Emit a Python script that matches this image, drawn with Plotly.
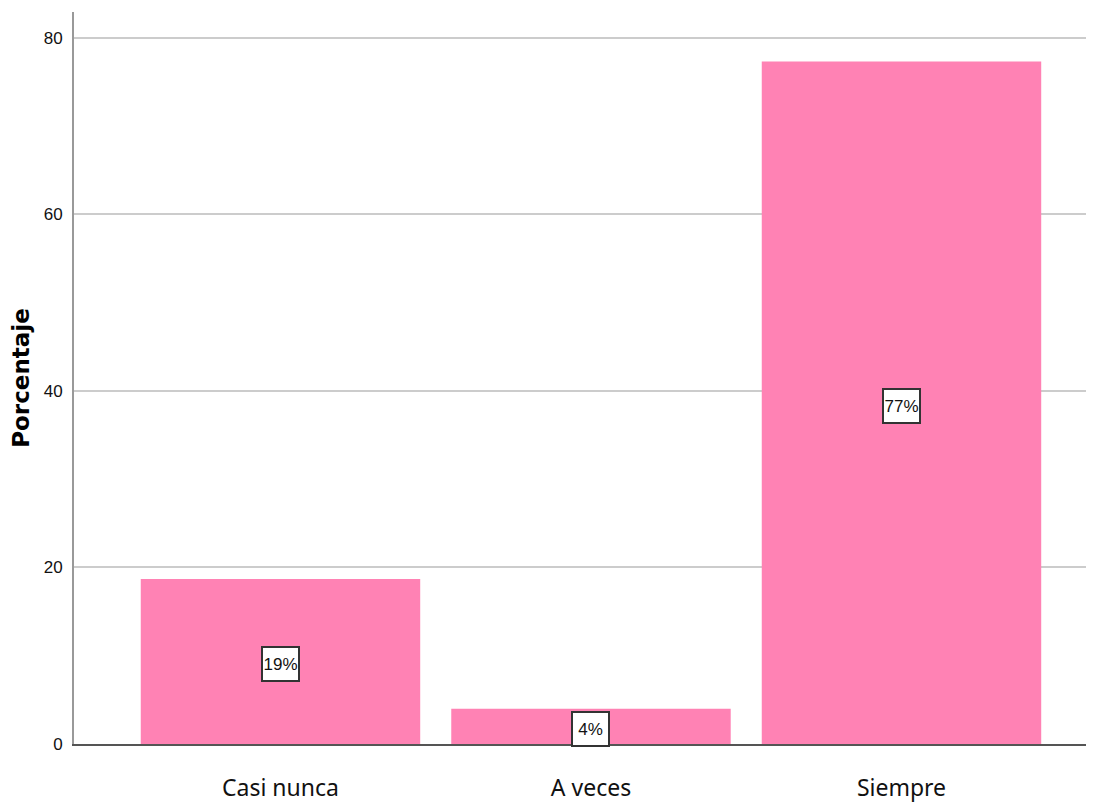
import plotly.graph_objects as go

categories = ["Casi nunca", "A veces", "Siempre"]
values = [18.7, 4.0, 77.3]
labels = ["19%", "4%", "77%"]
y_ticks = [0, 20, 40, 60, 80]

fig = go.Figure()
fig.add_trace(go.Bar(
    x=categories, y=values,
    marker=dict(color="#FF82B4", line=dict(width=0)),
    width=0.9,
    hoverinfo="skip",
))

for c, v, t in zip(categories, values, labels):
    fig.add_annotation(
        x=c, y=v / 2, text=t, showarrow=False, yshift=-3,
        width=35, height=32,
        font=dict(family="Liberation Sans Narrow, Arial Narrow, Liberation Sans, sans-serif", size=17, color="#111"),
        bgcolor="white", bordercolor="#333", borderwidth=2, borderpad=0,
    )

fig.update_layout(
    width=1086, height=794,
    margin=dict(l=66, r=0, t=4, b=58),
    paper_bgcolor="white", plot_bgcolor="white",
    showlegend=False,
    xaxis=dict(
        type="category", range=[-0.665, 2.62],
        showgrid=False, showline=True, linecolor="#555", linewidth=1.5,
        ticks="", ticklabelstandoff=23,
        tickfont=dict(family="Noto Sans, sans-serif", size=23, color="#111"),
    ),
    yaxis=dict(
        range=[0, 82.9], tickvals=y_ticks,
        showgrid=True, gridcolor="#CCCCCC", gridwidth=2,
        showline=True, linecolor="#999", linewidth=2,
        ticks="", ticklabelstandoff=6, zeroline=False,
        tickfont=dict(family="Liberation Sans Narrow, Arial Narrow, Liberation Sans, sans-serif", size=17, color="#111"),
        title=dict(text="<b>Porcentaje</b>", standoff=14,
                   font=dict(family="DejaVu Sans, sans-serif", size=23, color="#000")),
    ),
)

fig.write_html("out.html")
